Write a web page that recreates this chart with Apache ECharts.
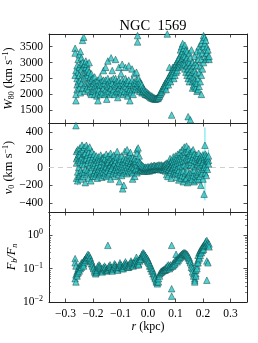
<!DOCTYPE html>
<html><head><meta charset="utf-8">
<script src="https://cdn.jsdelivr.net/npm/echarts@6/dist/echarts.min.js"></script>
<style>html,body{margin:0;padding:0;background:#fff}#c{width:258px;height:343px}</style>
</head><body><div id="c"></div>
<script>
// ---- data: each row = [r (kpc), value, value, ...] ----
const W80_rows = [
[-0.265,3450,3300,2600],[-0.262,1800,2000,2750],[-0.258,2300,2900,2500,2150],[-0.254,2700,3100,2400],
[-0.25,2850,3250,2200,2600],[-0.246,3350,2950,2450,2050],[-0.242,3150,2800,2350],[-0.238,3700,3000,2650,2200],
[-0.234,3800,2900,2500],[-0.23,2950,2700,2300,2100],[-0.226,2850,3050,2550],[-0.222,2750,2950,2350,2200],
[-0.218,2600,2800,2150],[-0.214,2700,3000,2400],[-0.21,2550,2250,2050],[-0.206,2450,2650,2000],[-0.202,2300,2500,2100],
[-0.198,2100,2350],[-0.194,2000,2250,2550],[-0.19,2150,2400],[-0.186,1950,2300],[-0.182,2050,2200,2450,1800],
[-0.178,2150,2350],[-0.174,2000,2300,2550],[-0.17,2100,2400],[-0.166,2050,2300],[-0.162,2200,2450,2750],
[-0.158,2000,2350],[-0.154,2150,2450,2850],[-0.15,2050,2300,1850],[-0.146,2250,2500,3050],[-0.142,2100,2400],
[-0.138,2000,2300],[-0.134,2200,2450,3150],[-0.13,2050,2350,2750],[-0.126,2150,2500],[-0.122,2000,2300],
[-0.118,2250,2500,3100],[-0.114,2100,2400],[-0.11,2050,2300,1900],[-0.106,2200,2450,2850],[-0.102,2100,2350],
[-0.098,2050,2300,2650],[-0.094,2150,2450,2950],[-0.09,2000,2350],[-0.086,2100,2300],[-0.082,2250,2500,2850],
[-0.078,2050,2400],[-0.074,1950,2200,2350],[-0.07,2100,2450,2900],[-0.066,1800,2150,2300],[-0.062,2050,2350],
[-0.058,2150,2450,2800],[-0.054,2000,2300],[-0.05,2200,2400,2650],[-0.046,2150,2350],[-0.042,2250,2450,2700],
[-0.038,3850,3650,2350,2150],[-0.034,2300,2500],[-0.03,2200,2400,2100],[-0.026,2250,2350],[-0.022,2150,2300,2050],
[-0.018,2200,2100],[-0.014,2150,2050],[-0.01,2100,2000],[-0.006,2080,2000],[-0.002,2050,1980],[0.002,2020,1960],
[0.006,1990,1930],[0.01,1960,1900],[0.014,1950,1890],[0.018,1920,1870],[0.022,1900,1860],[0.026,1880,1850],
[0.03,1860,1880],[0.034,1870,1900],[0.038,1890,1930],[0.042,1950,2000],[0.046,2020,2080],[0.05,2080,2150],
[0.054,2150,2200],[0.058,2200,2280],[0.062,2250,2350],[0.066,2300,2400,2150],[0.07,2380,2450,3900],[0.074,2420,2520,2300],
[0.078,2480,2600,2850],[0.082,2550,2650,2400],[0.086,2600,2700,1350],[0.09,2650,2780,2850],[0.094,2720,2850,2500],
[0.098,2800,2900,2600],[0.102,2850,2950,2700],[0.106,2900,3050,2750],[0.11,2950,3100,2850],[0.114,3000,3150,2900],
[0.118,3050,3250,3400],[0.122,3100,3300,3500,2950],[0.126,3150,3350,3600,2900],[0.13,3000,3250,3450],
[0.134,2950,3200,3550,2800],[0.138,3100,3400,2700],[0.142,2900,3150,3350,2600],[0.146,2800,3050,2500,1300],
[0.15,2700,3000,3300,2400],[0.154,2600,2900,3150,1200],[0.158,2500,2800,3400],[0.162,2400,2700,3000,2200],
[0.166,2300,2550,2900],[0.17,2250,2450,2750,3200],[0.174,2200,2400,2650,3000],[0.178,2100,2350,2900,3350],
[0.182,2150,2500,3100],[0.186,2250,2700,3250,3500],[0.19,2400,2900,3400],[0.194,2600,3100,3600,2000],
[0.198,2800,3300,3700],[0.202,3000,3500,3850],[0.206,3200,3600,3800],[0.21,3400,3100,3700],[0.214,3300,3500],
[0.218,3150,3400],[0.222,3100,3200]
];
const V0_rows = [
[-0.262,470],[-0.26,180,50,-120,100],[-0.256,200,-50,120,-150],[-0.252,150,0,-100,80],[-0.248,220,60,-80,140],
[-0.244,180,-30,100,-130],[-0.24,250,120,-60,40],[-0.236,200,80,-100],[-0.232,230,30,-50,150],[-0.228,160,-20,90,-170],
[-0.224,250,100,-80],[-0.22,210,50,-30,140],[-0.216,170,-60,80,-120],[-0.212,230,20,110],[-0.208,150,-40,60,-150],
[-0.204,180,0,90],[-0.2,120,-80,40,-100],[-0.196,150,20,-60],[-0.192,100,-100,50,-30],[-0.188,130,0,-70],
[-0.184,80,-50,20,-120],[-0.18,120,-20,60],[-0.176,90,-80,10,-40],[-0.172,140,30,-60],[-0.168,70,-30,100,-110],
[-0.164,110,0,-50],[-0.16,60,-90,30,120],[-0.156,100,-20,-60],[-0.152,150,40,-100,10],[-0.148,80,-40,50],
[-0.144,130,0,-80,60],[-0.14,90,-60,20],[-0.136,160,30,-30,-130],[-0.132,110,-10,60],[-0.128,70,-70,20],
[-0.124,140,40,-40],[-0.12,100,-20,-100,50],[-0.116,80,0,-60],[-0.112,120,30,-30,180],[-0.108,60,-80,10],
[-0.104,110,-20,50,-160],[-0.1,90,-50,20],[-0.096,130,0,-90],[-0.092,70,-30,40,-240],[-0.088,100,10,-60,-200],
[-0.084,180,60,-20],[-0.08,90,-40,30],[-0.076,120,0,-70,200],[-0.072,60,-30,80],[-0.068,140,20,-50],
[-0.064,100,-10,50,170],[-0.06,70,-40,10],[-0.056,110,30,-60,-130],[-0.052,80,0,50],[-0.048,60,-30,100,-100],
[-0.044,40,-20,70],[-0.04,200,160,30,-60],[-0.036,220,90,-10],[-0.032,60,-40,130],[-0.028,20,-30,50],
[-0.024,10,-20,30],[-0.02,0,-30,20],[-0.016,-10,-40,10],[-0.012,0,-20,-40],[-0.008,-10,-30,5],[-0.004,-20,-40,0],
[0.0,-10,-30,10],[0.004,-20,0,-40],[0.008,-10,10,-30],[0.012,0,-20,20],[0.016,-10,10,-30],[0.02,0,20,-20],
[0.024,10,-10,25],[0.028,0,15,-15],[0.032,10,-10,20],[0.036,5,-20,25],[0.04,10,-15,30],[0.044,0,20,-25],
[0.048,15,-10,30],[0.052,5,-20,20],[0.056,20,0,-30],[0.06,10,30,-20],[0.064,0,20,-40,40],[0.068,20,-10,50,-80],
[0.072,10,40,-30,-100],[0.076,30,-20,60],[0.08,0,50,-50,100],[0.084,20,-30,70,-120],[0.088,40,-10,80],
[0.092,0,60,-60,120],[0.096,30,-40,90,-80],[0.1,10,70,-70,130],[0.104,40,-20,100,-110],[0.108,0,80,-60,150],
[0.112,50,-30,110,-140],[0.116,20,90,-80,170],[0.12,60,-50,130,-120],[0.124,10,100,-90,200],[0.128,70,-40,150,-160],
[0.132,30,120,-100,230],[0.136,80,-60,170,-130],[0.14,20,110,-120,240],[0.144,90,-40,180,-170],[0.148,40,130,-80,210],
[0.152,100,-60,160,-150],[0.156,30,140,-110,60],[0.16,90,-50,180,-130],[0.164,20,120,-90,200],[0.168,80,-30,150,-160],
[0.172,10,110,-100],[0.176,70,-60,140,-140],[0.18,30,120,-80,40],[0.184,90,-50,160,-130],[0.188,20,100,-100,60],
[0.192,80,-40,130,-200],[0.196,40,110,-70],[0.2,60,-20,140,-130],[0.204,-300,90,0,120],[0.207,250],
[0.208,50,-60,150,30],[0.212,100,0,130,-90],[0.216,70,-20,110],[0.22,80,40,130]
];
// error bars on v0: [r, low, high]
const V0_err = [
[0.207,-370,450],[0.204,-350,-250],[0.19,-60,170],[0.196,-240,-150],[0.214,40,180],[0.22,70,200],
[0.176,-190,-90],[0.2,90,190],[-0.24,190,290],[-0.256,-200,-100]
];
const FbFn_rows = [
[-0.265,0.2,0.15,0.05],[-0.262,0.04,0.065,0.12],[-0.258,0.07,0.08,0.06],[-0.254,0.09,0.075,0.1],[-0.25,0.1,0.085,0.12],
[-0.246,0.12,0.1],[-0.242,0.13,0.11,0.15],[-0.238,0.15,0.13],[-0.234,0.17,0.14,0.12],[-0.23,0.19,0.16],
[-0.226,0.21,0.18],[-0.222,0.24,0.2],[-0.218,0.27,0.22],[-0.214,0.25,0.2],[-0.21,0.21,0.17],[-0.206,0.17,0.14],
[-0.202,0.14,0.12],[-0.198,0.11,0.1],[-0.194,0.09,0.08],[-0.19,0.075,0.07],[-0.186,0.08,0.09],[-0.182,0.1,0.12],
[-0.178,0.13,0.11],[-0.174,0.12,0.1],[-0.17,0.1,0.085],[-0.166,0.09,0.08],[-0.162,0.1,0.11],[-0.158,0.12,0.1],
[-0.154,0.11,0.09],[-0.15,0.095,0.085],[-0.146,0.5,0.1,0.09],[-0.142,0.12,0.1],[-0.138,0.13,0.11],[-0.134,0.11,0.095],
[-0.13,0.095,0.085],[-0.126,0.11,0.1],[-0.122,0.14,0.12],[-0.118,0.13,0.11],[-0.114,0.11,0.1],[-0.11,0.1,0.09],
[-0.106,0.12,0.11],[-0.102,0.15,0.13],[-0.098,0.13,0.11],[-0.094,0.11,0.1],[-0.09,0.12,0.1],[-0.086,0.14,0.12],
[-0.082,0.16,0.13],[-0.078,0.14,0.12],[-0.074,0.12,0.11],[-0.07,0.11,0.13],[-0.066,0.14,0.12],[-0.062,0.17,0.15],
[-0.058,0.15,0.13],[-0.054,0.13,0.12],[-0.05,0.14,0.16],[-0.046,0.18,0.15],[-0.042,0.22,0.17,0.13],[-0.038,0.16,0.14],
[-0.034,0.14,0.13,0.18],[-0.03,0.17,0.2],[-0.026,0.22,0.19],[-0.022,0.27,0.23],[-0.018,0.3,0.26],[-0.014,0.28,0.24],
[-0.01,0.25,0.21],[-0.006,0.22,0.19],[-0.002,0.2,0.17],[0.002,0.17,0.15],[0.006,0.14,0.12],[0.01,0.12,0.1],
[0.014,0.1,0.085],[0.018,0.085,0.07],[0.022,0.07,0.06],[0.026,0.055,0.05],[0.03,0.045,0.04],[0.034,0.035,0.04],
[0.038,0.04,0.05],[0.042,0.06,0.07],[0.046,0.075,0.08],[0.05,0.085,0.08],[0.054,0.09,0.085],[0.058,0.095,0.09],
[0.062,0.1,0.09],[0.066,0.11,0.095],[0.07,0.1,0.12],[0.074,0.11,0.13],[0.078,0.12,0.1],[0.082,0.13,0.11],
[0.086,0.5,0.025,0.015,0.12],[0.09,0.14,0.12],[0.094,0.13,0.15],[0.098,0.16,0.14],[0.102,0.2,0.17,0.27],
[0.106,0.19,0.16],[0.11,0.21,0.18],[0.114,0.23,0.2],[0.118,0.25,0.22],[0.122,0.27,0.24],[0.126,0.29,0.26],
[0.13,0.3,0.27],[0.134,0.3,0.28],[0.138,0.29,0.26],[0.142,0.27,0.24],[0.146,0.24,0.21],[0.15,0.21,0.18],
[0.154,0.17,0.15],[0.158,0.13,0.11],[0.162,0.1,0.08],[0.166,0.07,0.06],[0.17,0.05,0.045,0.04],[0.174,0.07,0.09,0.06],
[0.178,0.12,0.1,0.15],[0.182,0.18,0.15,0.25],[0.186,0.22,0.3,0.2],[0.19,0.3,0.25,0.35],[0.194,0.35,0.3,0.4],
[0.198,0.4,0.35,0.45],[0.202,0.45,0.38,0.5],[0.206,0.55,0.48],[0.21,0.6,0.5,0.65],[0.214,0.7,0.55,0.045,0.17],
[0.218,0.6,0.5,0.15],[0.222,0.55,0.45]
];
const xTicks = [-0.3,-0.2,-0.1,0.0,0.1,0.2,0.3];
const w80Ticks = [1500,2000,2500,3000,3500];
const v0Ticks = [-400,-200,0,200,400];
const fbTicks = [0.01,0.1,1];
const fbMinor = [0.02,0.03,0.04,0.05,0.06,0.07,0.08,0.09,0.2,0.3,0.4,0.5,0.6,0.7,0.8,0.9,2,3,4,5];

function flat(rows){const o=[];rows.forEach(r=>{for(let i=1;i<r.length;i++)o.push([r[0],r[i]]);});return o;}

const SERIF = 'Liberation Serif, DejaVu Serif, serif';
const grids = [
  {left:49, top:34, width:198, height:89},
  {left:49, top:123, width:198, height:89},
  {left:49, top:212, width:198, height:90}
].map(g=>Object.assign(g,{containLabel:false, outerBoundsMode:'none'}));

const minus = s => String(s).replace('-', '\u2212');
const lineStyle = {color:'#222', width:1};
function xAx(i, pos, labels){
  return {type:'value', gridIndex:i, position:pos, min:-0.36, max:0.36,
    axisLine:{show:true, onZero:false, lineStyle},
    axisTick:{show:true, inside:true, length:3.5, customValues:xTicks, lineStyle:{color:'#222', width:0.8}},
    axisLabel:{show:labels, customValues:xTicks, formatter:v=>minus(v.toFixed(1)), fontFamily:SERIF, fontSize:11.5, color:'#000', margin:6},
    splitLine:{show:false}, nameMoveOverlap:false,
    name: labels ? '{i|r} (kpc)' : '', nameLocation:'middle', nameGap:19,
    nameTextStyle:{fontFamily:SERIF, fontSize:12, color:'#000', rich:{i:{fontStyle:'italic', fontFamily:SERIF, fontSize:12}}}
  };
}
const richName = {
  i:{fontStyle:'italic', fontFamily:SERIF, fontSize:12.5, lineHeight:14},
  t:{fontFamily:SERIF, fontSize:12.5, lineHeight:14},
  sb:{fontStyle:'italic', fontFamily:SERIF, fontSize:8, lineHeight:8, verticalAlign:'bottom'},
  sbu:{fontFamily:SERIF, fontSize:8, lineHeight:8, verticalAlign:'bottom'},
  sp:{fontFamily:SERIF, fontSize:8, lineHeight:8, verticalAlign:'top'}
};
function yAx(i, pos, opts){
  const labels = pos==='left';
  const base = {gridIndex:i, position:pos,
    axisLine:{show:true, onZero:false, lineStyle},
    axisTick:{show:true, inside:true, length:3.5, lineStyle:{color:'#222', width:0.8}},
    axisLabel:{show:labels, fontFamily:SERIF, fontSize:11.5, color:'#000', margin:6},
    splitLine:{show:false}, nameMoveOverlap:false,
    nameLocation:'middle', nameRotate:90,
    nameTextStyle:{fontFamily:SERIF, fontSize:12.5, color:'#000', rich:richName}
  };
  return Object.assign(base, opts(labels));
}

const yAxes = [];
// panel 1
[ 'left','right' ].forEach(pos=>{
  yAxes.push(yAx(0,pos,labels=>({type:'value', min:1100, max:3900,
    axisTick:{show:true, inside:true, length:3.5, customValues:w80Ticks, lineStyle:{color:'#222', width:0.8}},
    axisLabel:{show:labels, customValues:w80Ticks, formatter:v=>String(v), fontFamily:SERIF, fontSize:11.5, color:'#000', margin:6},
    name: labels ? '{i|W}{sbu|80}{t| (km s}{sp|\u22121}{t|)}' : '', nameGap:33})));
});
// panel 2
[ 'left','right' ].forEach(pos=>{
  yAxes.push(yAx(1,pos,labels=>({type:'value', min:-500, max:500,
    axisTick:{show:true, inside:true, length:3.5, customValues:v0Ticks, lineStyle:{color:'#222', width:0.8}},
    axisLabel:{show:labels, customValues:v0Ticks, formatter:v=>minus(v), fontFamily:SERIF, fontSize:11.5, color:'#000', margin:6},
    name: labels ? '{i|v}{sbu|0}{t| (km s}{sp|\u22121}{t|)}' : '', nameGap:33})));
});
// panel 3
[ 'left','right' ].forEach(pos=>{
  yAxes.push(yAx(2,pos,labels=>({type:'log', logBase:10, min:0.01, max:5,
    axisTick:{show:true, inside:true, length:3.5, customValues:fbTicks, lineStyle:{color:'#222', width:0.8}},
    axisLabel:{show:labels, customValues:fbTicks, formatter:v=>'{b|10}{e|'+minus(Math.round(Math.log10(v)))+'}',
      rich:{b:{fontFamily:SERIF, fontSize:11.5, lineHeight:14, color:'#000'}, e:{fontFamily:SERIF, fontSize:8, lineHeight:8, verticalAlign:'top', color:'#000'}}, margin:6},
    name: labels ? '{i|F}{sb|b}{i|/F}{sb|n}' : '', nameGap:30})));
});
// minor log ticks
[ 'left','right' ].forEach(pos=>{
  yAxes.push({type:'log', logBase:10, min:0.01, max:5, gridIndex:2, position:pos,
    axisLine:{show:false, onZero:false}, splitLine:{show:false}, axisLabel:{show:false},
    axisTick:{show:true, inside:true, length:2, customValues:fbMinor, lineStyle:{color:'#333', width:0.6}}});
});

const xAxes = [xAx(0,'bottom',false), xAx(1,'bottom',false), xAx(2,'bottom',true),
               xAx(0,'top',false), xAx(1,'top',false), xAx(2,'top',false)];

const mk = {symbol:'triangle', symbolSize:6.5, itemStyle:{color:'#2cc5c5', borderColor:'#0b3f3f', borderWidth:0.6}};

const option = {
  animation:false,
  backgroundColor:'#fff',
  title:{text:'NGC  1569', left:148, top:14, textAlign:'center',
    textStyle:{fontFamily:SERIF, fontSize:14.5, fontWeight:'normal', color:'#000'}},
  grid:grids,
  xAxis:xAxes,
  yAxis:yAxes,
  series:[
    Object.assign({type:'scatter', xAxisIndex:0, yAxisIndex:0, data:flat(W80_rows), z:3}, mk),
    {type:'line', xAxisIndex:1, yAxisIndex:2, data:[[-0.36,0],[0.36,0]], symbol:'none', silent:true,
      lineStyle:{color:'#cfcfcf', type:[5,4], width:1.2}, z:1},
    {type:'custom', xAxisIndex:1, yAxisIndex:2, data:V0_err, z:2,
      renderItem:(params, api)=>{
        const a = api.coord([api.value(0), api.value(1)]);
        const b = api.coord([api.value(0), api.value(2)]);
        return {type:'line', shape:{x1:a[0], y1:a[1], x2:b[0], y2:b[1]}, style:{stroke:'#5fe3e3', lineWidth:1}};
      }, encode:{x:0, y:[1,2]}},
    Object.assign({type:'scatter', xAxisIndex:1, yAxisIndex:2, data:flat(V0_rows), z:3}, mk),
    Object.assign({type:'scatter', xAxisIndex:2, yAxisIndex:4, data:flat(FbFn_rows), z:3}, mk)
  ]
};
const chart = echarts.init(document.getElementById('c'), null, {renderer:'canvas'});
chart.setOption(option);
</script></body></html>
